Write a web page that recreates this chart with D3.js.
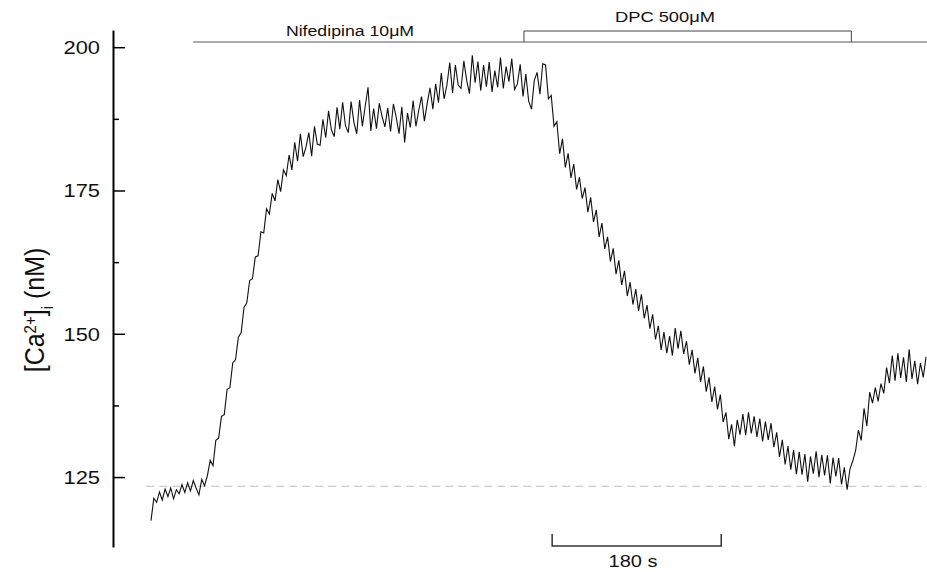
<!DOCTYPE html>
<html>
<head>
<meta charset="utf-8">
<script src="https://cdn.jsdelivr.net/npm/d3@7"></script>
<style>
  body { margin: 0; background: #fff; }
  svg text { font-family: "Liberation Sans", Arial, sans-serif; fill: #111; }
</style>
</head>
<body>
<svg id="chart"></svg>
<script>
// [Ca2+]i trace, one sample every 3 s (values in nM)
const sampleStep = 3;
const calcium = [
  117.4, 121.3, 120.6, 122.4, 121.0, 122.9, 121.6, 123.1, 121.2, 122.8,
  122.1, 123.7, 122.3, 124.0, 122.6, 124.4, 123.1, 121.9, 124.6, 123.5,
  125.2, 127.9, 127.0, 131.4, 131.8, 135.6, 135.9, 140.3, 140.6, 144.9,
  145.5, 149.4, 150.2, 154.6, 155.4, 159.3, 159.6, 163.4, 163.6, 167.8,
  167.6, 171.8, 170.9, 174.5, 173.2, 176.9, 174.8, 178.6, 177.6, 181.2,
  178.6, 183.4, 180.1, 184.9, 180.9, 182.6, 185.1, 181.0, 186.2, 183.1,
  182.9, 187.4, 184.2, 188.9, 185.6, 184.4, 189.5, 185.7, 190.4, 186.3,
  185.1, 190.5, 186.9, 184.9, 190.8, 186.2, 189.7, 193.0, 185.4, 189.3,
  185.8, 190.2, 187.9, 186.1, 189.4, 185.3, 190.1, 187.8, 184.9, 189.6,
  183.4, 188.5, 186.0, 190.7, 186.2, 189.0, 191.4, 187.1, 190.2, 192.9,
  189.2, 193.6, 190.3, 195.5, 191.0, 193.4, 197.3, 192.0, 196.9, 193.4,
  192.8, 197.6, 194.2, 191.9, 198.6, 193.8, 197.5, 192.4, 196.9, 193.1,
  197.4, 192.2, 195.9, 193.0, 198.2, 192.8, 196.6, 194.0, 198.0, 192.6,
  193.6, 197.0, 191.4, 195.3, 190.6, 189.2, 194.2, 195.6, 191.8, 197.1,
  196.9, 191.0, 191.6, 186.2, 187.0, 181.4, 184.0, 179.0, 181.5, 177.2,
  179.6, 175.2, 177.3, 173.6, 175.5, 171.2, 173.8, 169.5, 171.6, 166.9,
  169.3, 164.8, 166.9, 162.6, 164.9, 160.4, 162.8, 158.5, 161.0, 156.6,
  159.0, 155.1, 157.8, 154.0, 156.9, 152.7, 155.0, 150.9, 153.4, 149.0,
  151.4, 147.2, 150.3, 146.6, 149.6, 146.2, 151.0, 147.4, 150.5, 146.5,
  148.7, 144.6, 147.2, 143.1, 145.8, 141.6, 144.3, 139.9, 142.4, 138.1,
  140.8, 136.8, 139.4, 134.6, 136.3, 131.6, 134.2, 130.4, 135.0, 132.4,
  136.0, 132.3, 136.3, 132.6, 135.6, 132.0, 135.2, 131.2, 134.7, 131.5,
  134.4, 130.2, 132.8, 128.5, 131.5, 127.2, 130.4, 126.3, 129.7, 125.5,
  129.4, 125.4, 129.0, 124.2, 128.6, 125.6, 129.5, 125.0, 128.9, 125.3,
  128.8, 123.9, 128.4, 125.1, 128.3, 123.7, 126.7, 122.8, 126.4, 127.8,
  129.6, 133.2, 131.4, 137.0, 133.9, 139.8, 137.9, 140.6, 138.2, 141.3,
  139.6, 144.1, 141.4, 146.2, 141.8, 146.6, 142.3, 145.9, 141.6, 147.3,
  142.1, 145.3, 141.2, 144.9, 142.4, 146.0
];

const yTicks = [125, 150, 175, 200];
const yMinorTicks = [137.5, 162.5, 187.5];
const baselineValue = 123.4;

// drug applications (seconds)
const nifedipine = { label: "Nifedipina 10\u03BCM", start: 45, end: 826 };
const dpc = { label: "DPC 500\u03BCM", start: 397, end: 745.5 };
const scaleBar = { start: 427, length: 180, label: "180 s" };

const config = {
  width: 927,
  height: 572,
  axisX: 113,
  plotRight: 927,
  plotLeft: 151,
};

const svg = d3.select("#chart")
  .attr("width", config.width)
  .attr("height", config.height);

const points = calcium.map((v, i) => ({ t: i * sampleStep, v: v }));

const xScale = d3.scaleLinear()
  .domain([0, 826])
  .range([config.plotLeft, config.plotRight]);

const yScale = d3.scaleLinear()
  .domain([112.8, 203])
  .range([547, 30]);

// y axis, ticks pointing inward
const yAxis = d3.axisLeft(yScale)
  .tickValues(yTicks)
  .tickSizeInner(-12)
  .tickSizeOuter(0)
  .tickPadding(0)
  .tickFormat(d3.format("d"));

const yAxisGroup = svg.append("g")
  .attr("transform", `translate(${config.axisX},0)`)
  .call(yAxis);

yAxisGroup.select(".domain")
  .attr("stroke", "#000")
  .attr("stroke-width", 2);
yAxisGroup.selectAll(".tick line")
  .attr("stroke", "#000")
  .attr("stroke-width", 1.5);
yAxisGroup.selectAll(".tick text")
  .attr("x", 0)
  .attr("dy", "0.34em")
  .attr("text-anchor", "end")
  .attr("transform", "translate(-13,0) scale(1.15,1)")
  .style("font-size", "19px")
  .attr("fill", "#111");

const minorAxis = d3.axisLeft(yScale)
  .tickValues(yMinorTicks)
  .tickSizeInner(-6)
  .tickSizeOuter(0)
  .tickFormat("");

const minorGroup = svg.append("g")
  .attr("transform", `translate(${config.axisX},0)`)
  .call(minorAxis);
minorGroup.select(".domain").remove();
minorGroup.selectAll(".tick line")
  .attr("stroke", "#000")
  .attr("stroke-width", 1.5);

// y label
const yLabel = svg.append("text")
  .attr("transform", `translate(44,310) scale(1.1,1) rotate(-90)`)
  .attr("text-anchor", "middle")
  .style("font-size", "25px");
yLabel.append("tspan").text("[Ca");
yLabel.append("tspan")
  .attr("baseline-shift", "super")
  .style("font-size", "15px")
  .text("2+");
yLabel.append("tspan").text("]");
yLabel.append("tspan")
  .attr("baseline-shift", "sub")
  .style("font-size", "15px")
  .text("i");
yLabel.append("tspan").text(" (nM)");

// resting level
svg.append("line")
  .attr("x1", xScale(-5))
  .attr("x2", xScale(826))
  .attr("y1", yScale(baselineValue))
  .attr("y2", yScale(baselineValue))
  .attr("stroke", "#bdbdbd")
  .attr("stroke-width", 1)
  .attr("stroke-dasharray", "8,5");

// trace
const line = d3.line()
  .x((d) => xScale(d.t))
  .y((d) => yScale(d.v));

svg.append("path")
  .datum(points)
  .attr("fill", "none")
  .attr("stroke", "#111")
  .attr("stroke-width", 1.1)
  .attr("d", line);

// treatment bars
const barY = 42;
svg.append("line")
  .attr("x1", xScale(nifedipine.start))
  .attr("x2", xScale(nifedipine.end))
  .attr("y1", barY)
  .attr("y2", barY)
  .attr("stroke", "#555")
  .attr("stroke-width", 1);

svg.append("text")
  .attr("transform", `translate(350,36) scale(1.18,1)`)
  .attr("text-anchor", "middle")
  .style("font-size", "15px")
  .text(nifedipine.label);

svg.append("path")
  .attr("d", d3.line()([
    [xScale(dpc.start), barY],
    [xScale(dpc.start), 31],
    [xScale(dpc.end), 31],
    [xScale(dpc.end), barY],
  ]))
  .attr("fill", "none")
  .attr("stroke", "#444")
  .attr("stroke-width", 1);

svg.append("text")
  .attr("transform", `translate(665,22) scale(1.22,1)`)
  .attr("text-anchor", "middle")
  .style("font-size", "15px")
  .text(dpc.label);

// time scale bar
const sbY = 546;
svg.append("path")
  .attr("d", d3.line()([
    [xScale(scaleBar.start), 534],
    [xScale(scaleBar.start), sbY],
    [xScale(scaleBar.start + scaleBar.length), sbY],
    [xScale(scaleBar.start + scaleBar.length), 534],
  ]))
  .attr("fill", "none")
  .attr("stroke", "#333")
  .attr("stroke-width", 1.5);

svg.append("text")
  .attr("transform", `translate(633,567) scale(1.25,1)`)
  .attr("text-anchor", "middle")
  .style("font-size", "16px")
  .text(scaleBar.label);
</script>
</body>
</html>
